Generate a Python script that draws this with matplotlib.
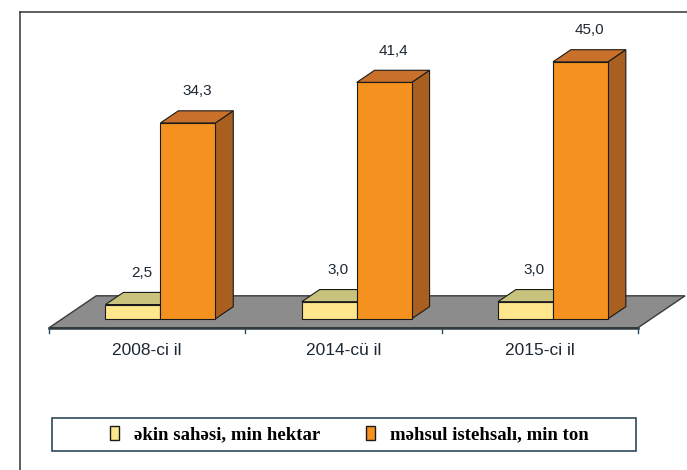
import matplotlib.pyplot as plt
from matplotlib.patches import Polygon, Rectangle, Patch
from matplotlib.lines import Line2D

# data
kateqoriyalar = ["2008-ci il", "2014-cü il", "2015-ci il"]
ekin_sahesi = [2.5, 3.0, 3.0]
mehsul_istehsali = [34.3, 41.4, 45.0]
seriya_adlari = ["əkin sahəsi, min hektar", "məhsul istehsalı, min ton"]

# colours: front, top, side
reng_sari = ("#fde68c", "#c9c27c", "#b8ae5e")
reng_narinci = ("#f5921f", "#c9702a", "#a85f1f")

# 3D geometry (data units)
DERIN_X, DERIN_Y = 0.24, 5.6     # floor depth
BAR_F0, BAR_F1 = 0.28, 0.66      # bar front/back as fraction of floor depth
EN = 0.28                        # bar width


def bar_3d(ax, x0, val, rengler, z):
    ox, oy = BAR_F0 * DERIN_X, BAR_F0 * DERIN_Y
    ddx, ddy = (BAR_F1 - BAR_F0) * DERIN_X, (BAR_F1 - BAR_F0) * DERIN_Y
    x0 = x0 + ox
    x1 = x0 + EN
    y0 = oy
    y1 = oy + val
    on = [(x0, y0), (x1, y0), (x1, y1), (x0, y1)]
    ust = [(x0, y1), (x1, y1), (x1 + ddx, y1 + ddy), (x0 + ddx, y1 + ddy)]
    yan = [(x1, y0), (x1 + ddx, y0 + ddy), (x1 + ddx, y1 + ddy), (x1, y1)]
    for pts, c in ((yan, rengler[2]), (ust, rengler[1]), (on, rengler[0])):
        ax.add_patch(Polygon(pts, closed=True, facecolor=c, edgecolor="#1a1a1a",
                             lw=0.8, zorder=z))
    return x0 + EN / 2 + ddx / 2, y1 + ddy


fig = plt.figure(figsize=(6.87, 4.70), dpi=100)
ax = fig.add_axes([0, 0, 1, 1])
ax.set_xlim(-0.75, 2.75)
ax.set_ylim(-24.9, 57.4)
ax.axis("off")

# floor
n = len(kateqoriyalar)
dosheme = [(-0.5, 0), (n - 0.5, 0), (n - 0.5 + DERIN_X, DERIN_Y), (-0.5 + DERIN_X, DERIN_Y)]
ax.add_patch(Polygon(dosheme, closed=True, facecolor="#8c8c8c", edgecolor="#3a3a3a",
                     lw=1.0, zorder=1))
ax.plot([-0.5, n - 0.5], [0, 0], color="#2e3a40", lw=1.8, zorder=2)
for b in range(n + 1):
    ax.plot([b - 0.5, b - 0.5], [0, -0.9], color="#2e4a60", lw=1.0, zorder=2)

for i in range(n):
    tx, ty = bar_3d(ax, i - EN, ekin_sahesi[i], reng_sari, 3)
    ax.text(tx, ty + 2.2, f"{ekin_sahesi[i]:.1f}".replace(".", ","), ha="center",
            va="bottom", fontsize=11, family="Liberation Sans", color="#1e2832")
    tx, ty = bar_3d(ax, i, mehsul_istehsali[i], reng_narinci, 4)
    ax.text(tx, ty + 2.2, f"{mehsul_istehsali[i]:.1f}".replace(".", ","), ha="center",
            va="bottom", fontsize=11, family="Liberation Sans", color="#1e2832")
    ax.text(i, -3.9, kateqoriyalar[i], ha="center", va="center", fontsize=12.5,
            family="Liberation Sans", color="#1e2832")

# outer frame
fig.add_artist(Line2D([20 / 687, 20 / 687], [0, 1 - 12 / 470], transform=fig.transFigure,
                      color="#444444", lw=1.2))
fig.add_artist(Line2D([20 / 687, 1], [1 - 12 / 470, 1 - 12 / 470], transform=fig.transFigure,
                      color="#444444", lw=1.2))

# legend box
fig.add_artist(Rectangle((52 / 687, 1 - 451 / 470), 584 / 687, 33 / 470,
                         transform=fig.transFigure, facecolor="white",
                         edgecolor="#2e4a5a", lw=1.2))
tutacaqlar = [Patch(facecolor=reng_sari[0], edgecolor="#1a1a1a"),
              Patch(facecolor=reng_narinci[0], edgecolor="#1a1a1a")]
fig.legend(tutacaqlar, seriya_adlari, loc="center left", bbox_to_anchor=(110 / 687, 1 - 434.5 / 470),
           ncol=2, frameon=False, handlelength=0.5, handleheight=0.8, handletextpad=0.8,
           columnspacing=2.4, borderpad=0, borderaxespad=0,
           prop={"family": ["Liberation Serif", "DejaVu Serif"], "weight": "bold", "size": 13.5})

fig.savefig("out.png", dpi=100)
